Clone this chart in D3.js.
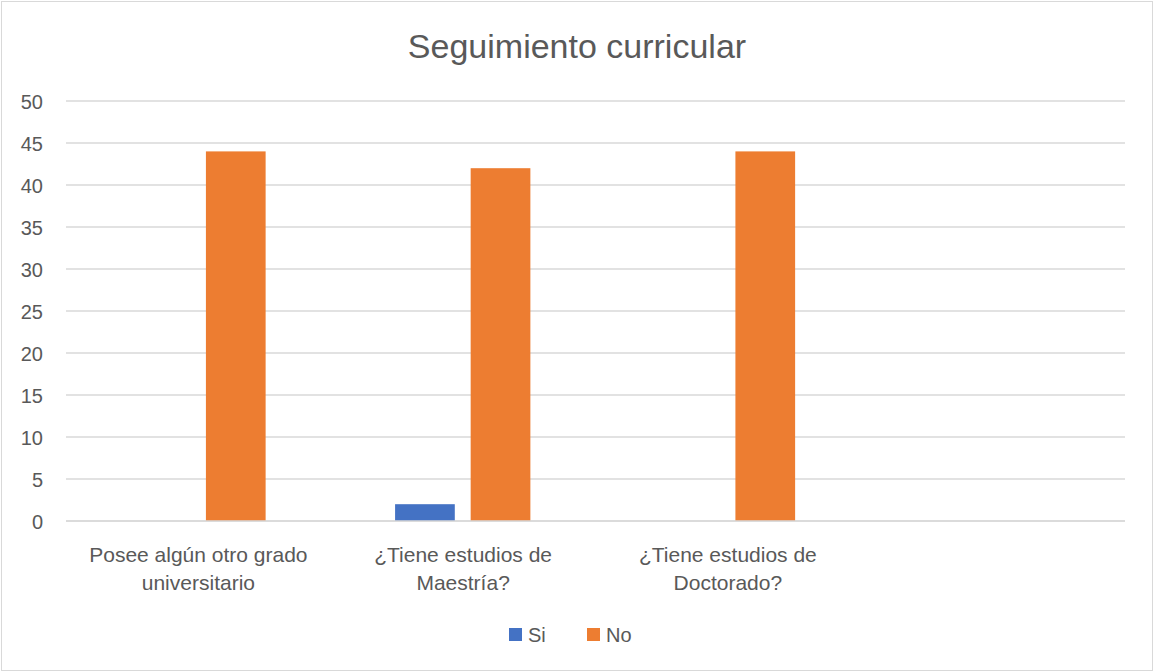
<!DOCTYPE html>
<html>
<head>
<meta charset="utf-8">
<script src="https://cdn.jsdelivr.net/npm/d3@7"></script>
<style>
  body { margin: 0; background: #fff; }
  text { font-family: "Liberation Sans", "DejaVu Sans", sans-serif; fill: #595959; }
</style>
</head>
<body>
<div id="chart"></div>
<script>
let categories = [
  ['Posee algún otro grado', 'universitario'],
  ['¿Tiene estudios de', 'Maestría?'],
  ['¿Tiene estudios de', 'Doctorado?'],
  ['']
]
let seriesNames = ['Si', 'No']
let siValues = [0, 2, 0, null]
let noValues = [44, 42, 44, null]
let yTicks = [0, 5, 10, 15, 20, 25, 30, 35, 40, 45, 50]
let colors = ['#4472c4', '#ed7d31']

let width = 1154
let height = 672
let margin = { top: 101, left: 66, right: 29, bottom: 151 }

let svg = d3
  .select('#chart')
  .append('svg')
  .attr('width', width)
  .attr('height', height)

svg.append('rect')
  .attr('x', 1.5).attr('y', 1.5)
  .attr('width', width - 3).attr('height', height - 3)
  .attr('fill', '#fff')
  .attr('stroke', '#d9d9d9')

let x = d3.scaleBand()
  .domain(d3.range(categories.length))
  .range([margin.left, width - margin.right])

// bars sit inside each band with wide outer gaps
let xs = d3.scaleBand()
  .domain(seriesNames)
  .range([x.bandwidth() * 0.243, x.bandwidth() * 0.754])
  .paddingInner(0.21)

let y = d3.scaleLinear()
  .domain([0, 50])
  .range([height - margin.bottom, margin.top])

let g = svg.append('g')

g.selectAll('.grid')
  .data(yTicks)
  .enter()
  .append('line')
  .attr('x1', margin.left)
  .attr('x2', width - margin.right)
  .attr('y1', d => y(d))
  .attr('y2', d => y(d))
  .attr('stroke', '#d9d9d9')
  .attr('stroke-width', 1.3)

g.selectAll('.ylab')
  .data(yTicks)
  .enter()
  .append('text')
  .attr('x', 43)
  .attr('y', d => y(d) + 7.5)
  .attr('text-anchor', 'end')
  .attr('font-size', '20px')
  .text(d => d)

let rows = categories.map((c, i) => ({ i: i, Si: siValues[i], No: noValues[i] }))

seriesNames.forEach((s, k) => {
  g.selectAll('.bar-' + s)
    .data(rows.filter(r => r[s] != null && r[s] > 0))
    .enter()
    .append('rect')
    .attr('x', d => x(d.i) + xs(s))
    .attr('width', xs.bandwidth())
    .attr('y', d => y(d[s]))
    .attr('height', d => y(0) - y(d[s]))
    .attr('fill', colors[k])
})

// baseline on top of bars
g.append('line')
  .attr('x1', margin.left)
  .attr('x2', width - margin.right)
  .attr('y1', y(0))
  .attr('y2', y(0))
  .attr('stroke', '#d9d9d9')
  .attr('stroke-width', 1.3)

categories.forEach((lines, i) => {
  let t = g.append('text')
    .attr('text-anchor', 'middle')
    .attr('font-size', '21px')
  lines.forEach((l, j) => {
    t.append('tspan')
      .attr('x', x(i) + x.bandwidth() / 2)
      .attr('y', 562 + j * 28)
      .text(l)
  })
})

svg.append('text')
  .attr('x', 577)
  .attr('y', 58)
  .attr('text-anchor', 'middle')
  .attr('font-size', '34px')
  .text('Seguimiento curricular')

let legendX = [509, 587]
seriesNames.forEach((s, k) => {
  svg.append('rect')
    .attr('x', legendX[k]).attr('y', 628)
    .attr('width', 13).attr('height', 13)
    .attr('fill', colors[k])
  svg.append('text')
    .attr('x', legendX[k] + 19)
    .attr('y', 642)
    .attr('font-size', '20px')
    .text(s)
})
</script>
</body>
</html>
